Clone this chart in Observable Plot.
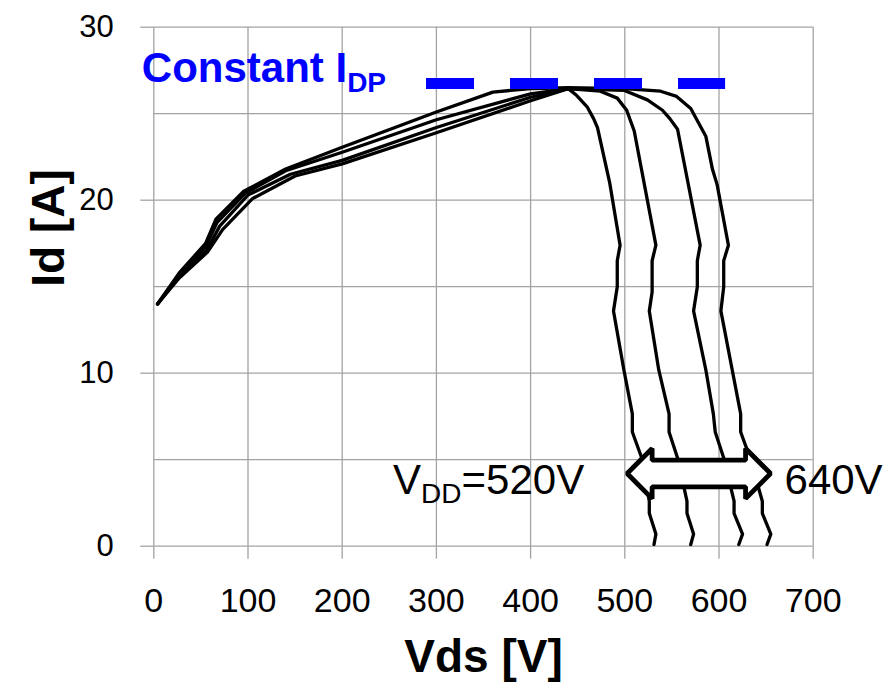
<!DOCTYPE html>
<html>
<head>
<meta charset="utf-8">
<script src="https://cdn.jsdelivr.net/npm/d3@7"></script>
<script src="https://cdn.jsdelivr.net/npm/@observablehq/plot@0.6"></script>
<style>
  html, body { margin: 0; padding: 0; background: #fff; }
</style>
</head>
<body>
<div id="chart"></div>
<script>
// Supply voltages of the four measured sweeps
const vdd = [520, 560, 600, 640];

// Drain-source voltage [V] and drain current [A] along each sweep
const vds520 = [4, 27, 57, 73, 105, 150, 200, 300, 400, 440, 449, 460, 467, 471, 484, 495, 492, 492, 488, 499, 508, 508, 518, 526, 526, 533, 531];
const id520  = [14.0, 15.5, 17.0, 18.3, 20.1, 21.4, 22.1, 23.9, 25.75, 26.45, 26.05, 25.4, 24.7, 24.2, 21.0, 17.4, 16.5, 15.0, 13.6, 10.2, 7.65, 6.6, 5.1, 2.6, 1.9, 0.7, 0.1];

const vds560 = [4, 27, 56, 70, 100, 145, 200, 300, 400, 440, 474, 492, 502, 510, 533, 529, 529, 526, 536, 547, 547, 556, 566, 566, 573, 570];
const id560  = [14.0, 15.6, 17.1, 18.5, 20.3, 21.5, 22.3, 24.2, 25.95, 26.45, 26.3, 25.9, 25.2, 24.0, 17.4, 16.5, 14.7, 13.6, 10.2, 7.65, 6.6, 5.1, 2.6, 1.9, 0.7, 0.1];

const vds600 = [4, 27, 55, 67, 97, 140, 200, 300, 400, 440, 499, 524, 540, 548, 556, 580, 577, 577, 573, 586, 594, 596, 605, 616, 616, 625, 621];
const id600  = [14.0, 15.7, 17.3, 18.7, 20.4, 21.7, 22.77, 24.65, 26.15, 26.45, 26.35, 25.8, 25.2, 24.7, 24.1, 17.4, 16.5, 15.0, 13.6, 10.2, 7.65, 6.6, 5.1, 2.6, 1.9, 0.7, 0.1];

const vds640 = [4, 27, 55, 66, 95, 140, 200, 300, 360, 400, 440, 500, 538, 555, 570, 586, 593, 598, 610, 605, 605, 602, 614, 623, 623, 633, 646, 646, 655, 651];
const id640  = [14.0, 15.8, 17.5, 18.9, 20.5, 21.8, 23.06, 25.1, 26.25, 26.45, 26.5, 26.45, 26.3, 26.0, 25.3, 23.7, 21.8, 20.9, 17.4, 16.5, 15.0, 13.6, 10.2, 7.65, 6.6, 5.1, 2.6, 1.9, 0.7, 0.1];

// Axis ticks and grid
const xTicks = [0, 100, 200, 300, 400, 500, 600, 700];
const yTicks = [0, 10, 20, 30];
const xGrid = xTicks;
const yGrid = [0, 5, 10, 15, 20, 25, 30];

// Constant pulsed drain current level (dashed line)
const idpLevel = 26.75;
const idpFrom = 289.5;
const idpTo = 607;

// Sweep arrow spanning the VDD range
const sweepFrom = 502.5;
const sweepTo = 654.7;
const sweepAt = 4.2;
const headLen = 26.5;
const headHalf = 1.45;
const shaftHalf = 0.77;

const series = [[vds520, id520], [vds560, id560], [vds600, id600], [vds640, id640]];
const points = vdd.flatMap((v, k) =>
  series[k][0].map((x, i) => ({vdd: v, vds: x, id: series[k][1][i]}))
);

const arrowOutline = [
  [sweepFrom, sweepAt],
  [sweepFrom + headLen, sweepAt + headHalf],
  [sweepFrom + headLen, sweepAt + shaftHalf],
  [sweepTo - headLen, sweepAt + shaftHalf],
  [sweepTo - headLen, sweepAt + headHalf],
  [sweepTo, sweepAt],
  [sweepTo - headLen, sweepAt - headHalf],
  [sweepTo - headLen, sweepAt - shaftHalf],
  [sweepFrom + headLen, sweepAt - shaftHalf],
  [sweepFrom + headLen, sweepAt - headHalf]
];

const gridColor = "#a3a3a3";

const chart = Plot.plot({
  width: 887,
  height: 682,
  marginLeft: 153.3,
  marginRight: 74.3,
  marginTop: 26.7,
  marginBottom: 136.3,
  style: {fontFamily: "'Liberation Sans', Arial, sans-serif", background: "#fff", color: "#000", overflow: "visible"},
  x: {domain: [0, 700]},
  y: {domain: [0, 30]},
  marks: [
    Plot.ruleX(xGrid, {stroke: gridColor, strokeWidth: 1.3}),
    Plot.ruleY(yGrid, {stroke: gridColor, strokeWidth: 1.3}),
    Plot.axisX({ticks: xTicks, tickSize: 13, tickPadding: 29, fontSize: 34, stroke: gridColor, strokeWidth: 1.3, color: "#000", label: null}),
    Plot.axisY({ticks: yTicks, tickSize: 13, tickPadding: 27, fontSize: 31, stroke: gridColor, strokeWidth: 1.3, color: "#000", label: null}),
    Plot.line(points, {x: "vds", y: "id", z: "vdd", stroke: "#000", strokeWidth: 3.3, strokeLinejoin: "round"}),
    Plot.ruleY([idpLevel], {x1: idpFrom, x2: idpTo, stroke: "#0000ff", strokeWidth: 11, strokeDasharray: "48,36"}),
    Plot.line(arrowOutline, {x: d => d[0], y: d => d[1], curve: "linear-closed", fill: "#fff", stroke: "#000", strokeWidth: 4.8, strokeLinejoin: "miter"}),
    Plot.text(["Constant I_{DP}"], {text: d => d, frameAnchor: "left", y: () => idpLevel, dx: -12, dy: -1, textAnchor: "start", lineAnchor: "bottom", fontSize: 42, fontWeight: "bold", fill: "#0000ff"}),
    Plot.text(["V_{DD}=520V"], {text: d => d, x: () => sweepFrom, y: () => sweepAt, dx: -43, dy: 20, textAnchor: "end", lineAnchor: "bottom", fontSize: 42, fill: "#000"}),
    Plot.text(["640V"], {text: d => d, x: () => sweepTo, y: () => sweepAt, dx: 14, dy: 20, textAnchor: "start", lineAnchor: "bottom", fontSize: 42, fill: "#000"}),
    Plot.text(["Vds [V]"], {text: d => d, frameAnchor: "bottom", dy: 126, lineAnchor: "bottom", fontSize: 46, fontWeight: "bold", fill: "#000"}),
    Plot.text(["Id [A]"], {text: d => d, frameAnchor: "left", dx: -90, rotate: -90, lineAnchor: "bottom", fontSize: 46, fontWeight: "bold", fill: "#000"})
  ]
});

// Render "_{...}" segments as lowered, smaller subscripts
d3.select(chart).selectAll("text").each(function () {
  const t = this.textContent;
  if (!/_\{/.test(t)) return;
  const parts = t.split(/(_\{[^}]*\})/).filter(s => s.length);
  this.textContent = "";
  let lowered = false;
  for (const p of parts) {
    const ts = d3.select(this).append("tspan");
    if (p.startsWith("_{")) {
      ts.text(p.slice(2, -1)).attr("font-size", 28).attr("dy", lowered ? 0 : 9.5);
      lowered = true;
    } else {
      ts.text(p);
      if (lowered) { ts.attr("dy", -9.5); lowered = false; }
    }
  }
});

document.getElementById("chart").appendChild(chart);
</script>
</body>
</html>
